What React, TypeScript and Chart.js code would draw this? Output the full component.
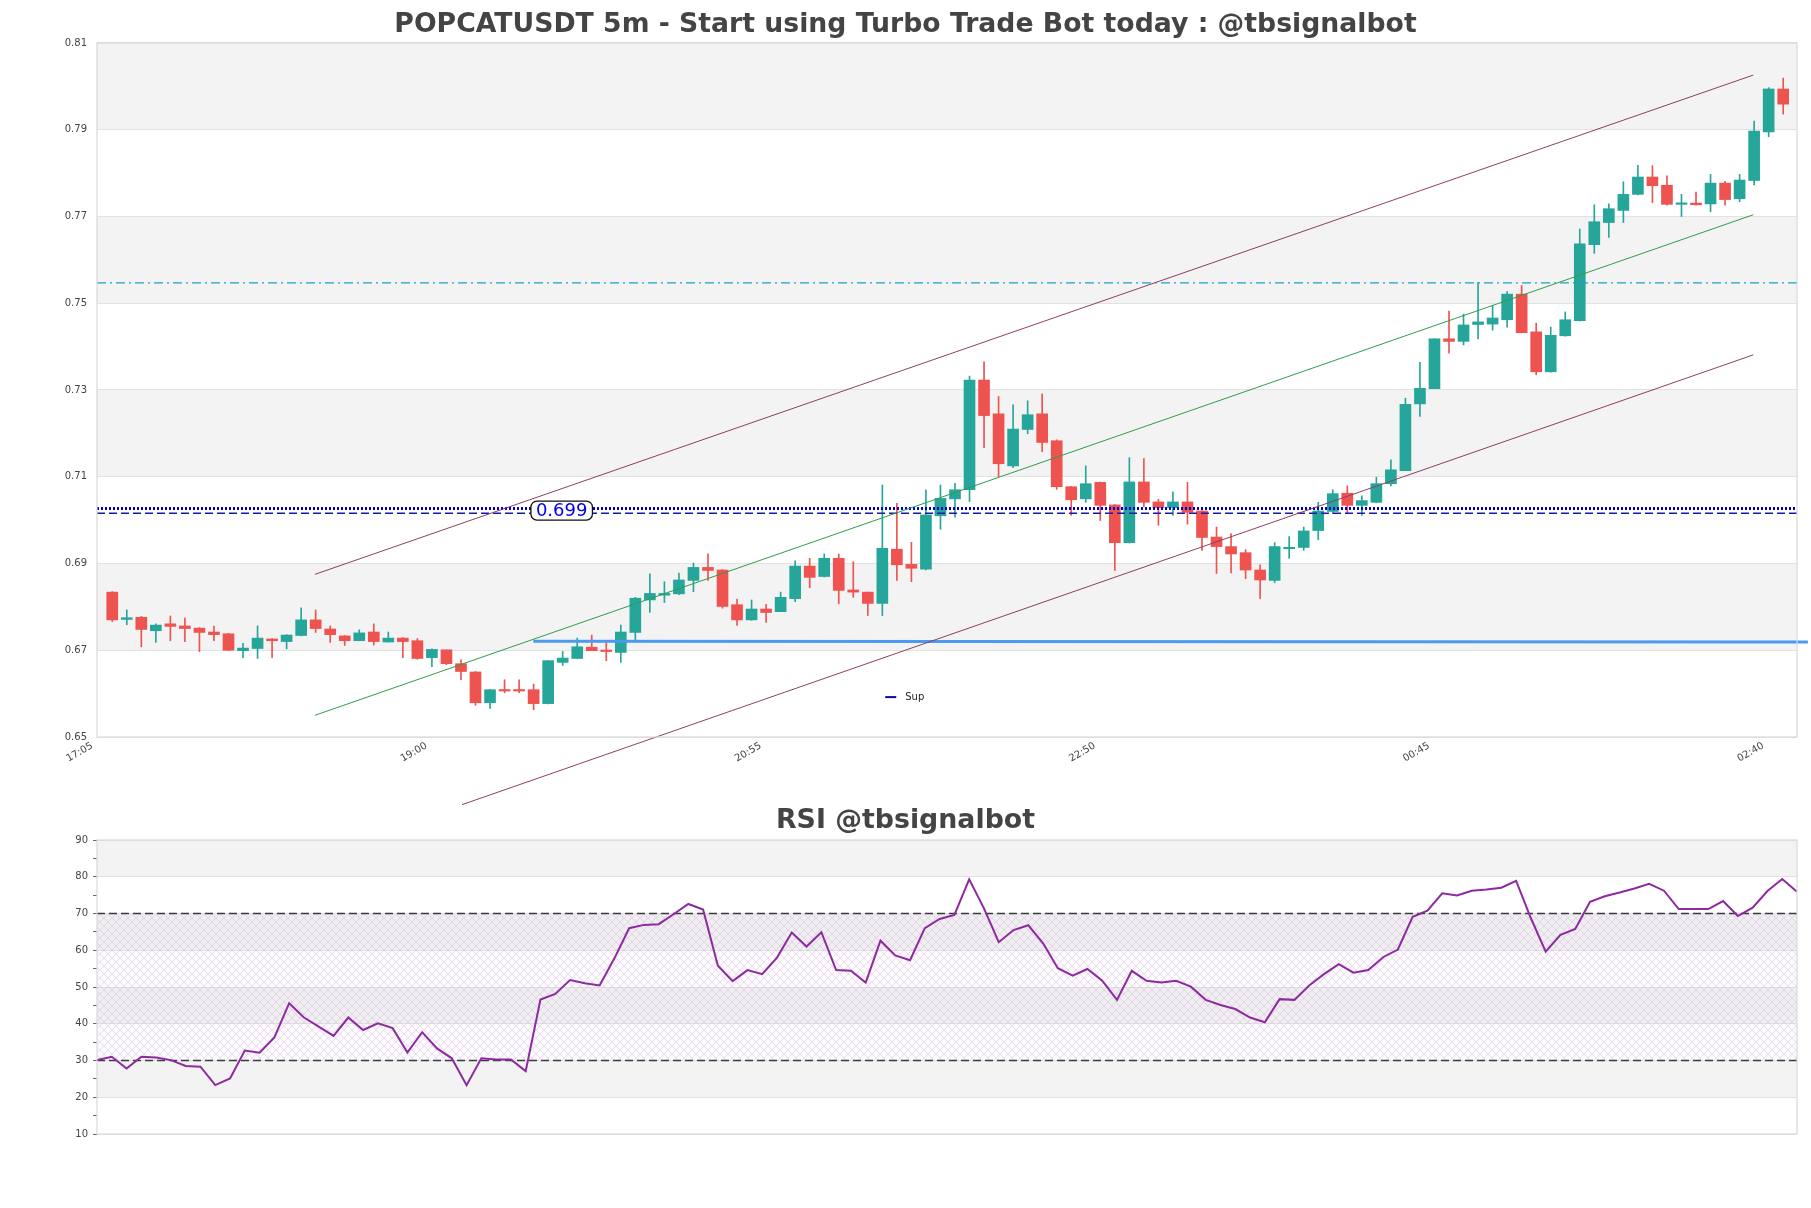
import React, { useEffect, useRef } from "react";
import { Chart, registerables } from "chart.js";

Chart.register(...registerables);

// ---------------- data ----------------
const OPEN = [
  0.6834, 0.6771, 0.6776, 0.6745, 0.6761, 0.6756, 0.6751, 0.6742, 0.6738, 0.6699,
  0.6704, 0.6726, 0.6720, 0.6734, 0.6770, 0.6749, 0.6733, 0.6722, 0.6742, 0.6719,
  0.6728, 0.6722, 0.6683, 0.6701, 0.6669, 0.6650, 0.6579, 0.6609, 0.6609, 0.6609,
  0.6577, 0.6672, 0.6681, 0.6707, 0.6699, 0.6695, 0.6741, 0.6816, 0.6827, 0.6830,
  0.6861, 0.6891, 0.6885, 0.6805, 0.6770, 0.6795, 0.6789, 0.6819, 0.6894, 0.6870,
  0.6912, 0.6839, 0.6834, 0.6808, 0.6933, 0.6898, 0.6887, 0.7010, 0.7049, 0.7070,
  0.7323, 0.7245, 0.7125, 0.7209, 0.7245, 0.7183, 0.7077, 0.7049, 0.7087, 0.7035,
  0.6948, 0.7088, 0.7042, 0.7029, 0.7042, 0.7021, 0.6961, 0.6939, 0.6925, 0.6885,
  0.6861, 0.6934, 0.6937, 0.6976, 0.7020, 0.7062, 0.7034, 0.7041, 0.7084, 0.7114,
  0.7268, 0.7303, 0.7418, 0.7412, 0.7451, 0.7452, 0.7462, 0.7521, 0.7434, 0.7342,
  0.7425, 0.7460, 0.7635, 0.7686, 0.7714, 0.7751, 0.7791, 0.7772, 0.7728, 0.7731,
  0.7729, 0.7777, 0.7741, 0.7783, 0.7895, 0.7994,
];
const HIGH = [
  0.6835, 0.6793, 0.6778, 0.6761, 0.6779, 0.6774, 0.6752, 0.6756, 0.6739, 0.6716,
  0.6756, 0.6727, 0.6736, 0.6798, 0.6793, 0.6756, 0.6734, 0.6747, 0.6761, 0.6742,
  0.6729, 0.6727, 0.6703, 0.6701, 0.6678, 0.6651, 0.6610, 0.6632, 0.6632, 0.6622,
  0.6676, 0.6697, 0.6728, 0.6735, 0.6722, 0.6758, 0.6822, 0.6876, 0.6858, 0.6878,
  0.6901, 0.6922, 0.6886, 0.6818, 0.6816, 0.6806, 0.6834, 0.6906, 0.6912, 0.6922,
  0.6922, 0.6904, 0.6834, 0.7081, 0.7039, 0.6949, 0.7070, 0.7081, 0.7085, 0.7332,
  0.7365, 0.7285, 0.7266, 0.7275, 0.7291, 0.7185, 0.7078, 0.7125, 0.7088, 0.7036,
  0.7144, 0.7142, 0.7048, 0.7065, 0.7087, 0.7022, 0.6984, 0.6969, 0.6932, 0.6897,
  0.6948, 0.6962, 0.6984, 0.7041, 0.7070, 0.7079, 0.7056, 0.7099, 0.7139, 0.7281,
  0.7364, 0.7418, 0.7482, 0.7475, 0.7548, 0.7495, 0.7527, 0.7541, 0.7454, 0.7445,
  0.7480, 0.7671, 0.7727, 0.7729, 0.7780, 0.7818, 0.7817, 0.7794, 0.7751, 0.7756,
  0.7797, 0.7781, 0.7797, 0.7920, 0.7997, 0.8019,
];
const LOW = [
  0.6766, 0.6759, 0.6708, 0.6718, 0.6722, 0.6720, 0.6697, 0.6722, 0.6699, 0.6683,
  0.6681, 0.6683, 0.6703, 0.6733, 0.6741, 0.6718, 0.6711, 0.6722, 0.6712, 0.6719,
  0.6683, 0.6679, 0.6662, 0.6667, 0.6632, 0.6573, 0.6566, 0.6602, 0.6602, 0.6563,
  0.6576, 0.6665, 0.6681, 0.6699, 0.6676, 0.6672, 0.6724, 0.6787, 0.6810, 0.6828,
  0.6835, 0.6861, 0.6797, 0.6757, 0.6769, 0.6764, 0.6789, 0.6812, 0.6844, 0.6869,
  0.6807, 0.6822, 0.6780, 0.6780, 0.6861, 0.6858, 0.6885, 0.6979, 0.7007, 0.7043,
  0.7167, 0.7100, 0.7121, 0.7199, 0.7158, 0.7071, 0.7011, 0.7041, 0.6999, 0.6884,
  0.6947, 0.7031, 0.6988, 0.7011, 0.6991, 0.6930, 0.6877, 0.6878, 0.6865, 0.6819,
  0.6856, 0.6912, 0.6930, 0.6955, 0.7015, 0.7015, 0.7011, 0.7040, 0.7079, 0.7114,
  0.7239, 0.7303, 0.7385, 0.7404, 0.7418, 0.7438, 0.7445, 0.7432, 0.7335, 0.7341,
  0.7424, 0.7459, 0.7615, 0.7652, 0.7686, 0.7750, 0.7732, 0.7726, 0.7700, 0.7726,
  0.7711, 0.7726, 0.7734, 0.7773, 0.7884, 0.7936,
];
const CLOSE = [
  0.6770, 0.6775, 0.6748, 0.6758, 0.6755, 0.6750, 0.6741, 0.6736, 0.6700, 0.6705,
  0.6728, 0.6722, 0.6735, 0.6770, 0.6750, 0.6736, 0.6722, 0.6740, 0.6720, 0.6728,
  0.6720, 0.6681, 0.6702, 0.6669, 0.6651, 0.6579, 0.6609, 0.6606, 0.6606, 0.6577,
  0.6676, 0.6682, 0.6708, 0.6699, 0.6697, 0.6742, 0.6820, 0.6831, 0.6831, 0.6862,
  0.6891, 0.6884, 0.6801, 0.6770, 0.6795, 0.6787, 0.6822, 0.6894, 0.6868, 0.6912,
  0.6838, 0.6834, 0.6808, 0.6935, 0.6897, 0.6889, 0.7012, 0.7050, 0.7070, 0.7323,
  0.7241, 0.7130, 0.7210, 0.7243, 0.7179, 0.7077, 0.7047, 0.7084, 0.7034, 0.6948,
  0.7088, 0.7041, 0.7029, 0.7042, 0.7018, 0.6960, 0.6939, 0.6922, 0.6885, 0.6862,
  0.6939, 0.6936, 0.6975, 0.7021, 0.7061, 0.7034, 0.7045, 0.7084, 0.7116, 0.7267,
  0.7304, 0.7418, 0.7412, 0.7450, 0.7457, 0.7466, 0.7521, 0.7432, 0.7342, 0.7426,
  0.7462, 0.7637, 0.7688, 0.7718, 0.7751, 0.7791, 0.7771, 0.7728, 0.7729, 0.7727,
  0.7777, 0.7739, 0.7784, 0.7897, 0.7994, 0.7959,
];

const RSI = [
  30.1, 31.0, 27.8, 31.0, 30.8, 30.1, 28.5, 28.3, 23.3, 25.1,
  32.7, 32.1, 36.3, 45.6, 41.7, 39.2, 36.7, 41.7, 38.3, 40.1,
  38.8, 32.2, 37.7, 33.3, 30.6, 23.3, 30.6, 30.3, 30.3, 27.1,
  46.6, 48.1, 51.9, 51.0, 50.4, 57.8, 66.0, 66.9, 67.1, 69.8,
  72.6, 71.1, 55.8, 51.6, 54.6, 53.5, 58.0, 64.8, 61.0, 64.9,
  54.6, 54.4, 51.2, 62.6, 58.6, 57.3, 66.0, 68.5, 69.6, 79.3,
  71.4, 62.2, 65.5, 66.8, 61.9, 55.1, 53.1, 54.9, 51.7, 46.5,
  54.4, 51.7, 51.2, 51.7, 50.1, 46.5, 45.1, 44.0, 41.7, 40.4,
  46.7, 46.5, 50.4, 53.5, 56.2, 53.9, 54.6, 58.1, 60.2, 69.1,
  70.8, 75.5, 74.9, 76.2, 76.5, 77.0, 78.9, 68.7, 59.6, 64.2,
  65.8, 73.2, 74.7, 75.7, 76.8, 78.1, 76.2, 71.2, 71.2, 71.2,
  73.4, 69.3, 71.6, 76.1, 79.4, 75.9,
];

const X_TICK_INDEX = [0, 23, 46, 69, 92, 115];
const X_TICK_LABELS = ["17:05", "19:00", "20:55", "22:50", "00:45", "02:40"];
const Y_TICKS = [0.65, 0.67, 0.69, 0.71, 0.73, 0.75, 0.77, 0.79, 0.81];
const RSI_MAJOR = [10, 20, 30, 40, 50, 60, 70, 80, 90];
const RSI_LEVELS = [30, 70];

// trend channel end points [index, price]
const CHANNEL_UPPER = [[13.95, 0.6875], [112.94, 0.8026]];
const CHANNEL_MID = [[13.95, 0.655], [112.94, 0.7704]];
const CHANNEL_LOWER = [[24.07, 0.6344], [112.94, 0.7381]];
const SUP_LINE = [[28.98, 0.6721], [116.7, 0.6719]];
const LEVEL_CYAN = 0.7547;
const LEVEL_DOTTED = 0.7027;
const LEVEL_DASHED = 0.7016;
const LEVEL_LABEL = "0.699";
const LEVEL_LABEL_AT = [30.93, 0.7022];
const LEGEND_LABEL = "Sup";
const LEGEND_AT = [53.2, 0.6592];

const MAIN_TITLE = "POPCATUSDT 5m - Start using Turbo Trade Bot today : @tbsignalbot";
const RSI_TITLE = "RSI @tbsignalbot";

// ---------------- styling ----------------
const FONT = "'DejaVu Sans', sans-serif";
const UP = "#26a69a";
const DOWN = "#ef5350";
const BAND = "#f3f3f3";
const FRAME = "#d9d9d9";
const GRID = "#e2e2e2";
const TICK_COLOR = "#444";
const X_MIN = -1.05;
const X_MAX = 115.95;

Chart.defaults.font.family = FONT;

const pts = (arr: number[][]) => arr.map(([x, y]) => ({ x, y }));
const hline = (v: number, x0: number, x1: number) => [{ x: x0, y: v }, { x: x1, y: v }];

const bandsPlugin = (edges: number[], axis: string) => ({
  id: "bands_" + axis,
  beforeDraw(chart: any) {
    const { ctx, chartArea: a } = chart;
    const y = chart.scales[axis];
    ctx.save();
    ctx.fillStyle = BAND;
    for (let k = 0; k < edges.length - 1; k++) {
      if (k % 2 === 1) {
        const t = y.getPixelForValue(edges[k + 1]);
        const b = y.getPixelForValue(edges[k]);
        ctx.fillRect(a.left, t, a.right - a.left, b - t);
      }
    }
    ctx.restore();
  },
});

const framePlugin = {
  id: "frame",
  afterDraw(chart: any) {
    const { ctx, chartArea: a } = chart;
    ctx.save();
    ctx.strokeStyle = FRAME;
    ctx.lineWidth = 1.2;
    ctx.strokeRect(a.left, a.top, a.right - a.left, a.bottom - a.top);
    ctx.restore();
  },
};

const overlayPlugin = {
  id: "overlay",
  afterDatasetsDraw(chart: any) {
    const { ctx } = chart;
    const xs = chart.scales.x;
    const ys = chart.scales.y;
    ctx.save();
    // level label box
    ctx.font = `18px ${FONT}`;
    const tw = ctx.measureText(LEVEL_LABEL).width;
    const cx = xs.getPixelForValue(LEVEL_LABEL_AT[0]);
    const cy = ys.getPixelForValue(LEVEL_LABEL_AT[1]);
    const w = tw + 10;
    const h = 19;
    const x0 = cx - w / 2;
    const y0 = cy - h / 2;
    ctx.beginPath();
    ctx.roundRect(x0, y0, w, h, 6);
    ctx.fillStyle = "#ffffff";
    ctx.fill();
    ctx.lineWidth = 1.3;
    ctx.strokeStyle = "#111";
    ctx.stroke();
    ctx.fillStyle = "#0000ee";
    ctx.textAlign = "center";
    ctx.textBaseline = "middle";
    ctx.fillText(LEVEL_LABEL, cx, cy + 1);
    // legend
    const lx = xs.getPixelForValue(LEGEND_AT[0]);
    const ly = ys.getPixelForValue(LEGEND_AT[1]);
    ctx.strokeStyle = "#0a0aa0";
    ctx.lineWidth = 2;
    ctx.beginPath();
    ctx.moveTo(lx, ly);
    ctx.lineTo(lx + 11, ly);
    ctx.stroke();
    ctx.font = `10px ${FONT}`;
    ctx.fillStyle = "#222";
    ctx.textAlign = "left";
    ctx.fillText(LEGEND_LABEL, lx + 20, ly);
    ctx.restore();
  },
};

let hatchPattern: CanvasPattern | null = null;
const hatchPlugin = {
  id: "hatch",
  beforeDatasetsDraw(chart: any) {
    const { ctx, chartArea: a } = chart;
    const y = chart.scales.y;
    if (!hatchPattern) {
      const c = document.createElement("canvas");
      c.width = 8;
      c.height = 8;
      const g = c.getContext("2d")!;
      g.strokeStyle = "rgba(175,140,195,0.35)";
      g.lineWidth = 0.7;
      g.beginPath();
      g.moveTo(0, 0);
      g.lineTo(8, 8);
      g.moveTo(8, 0);
      g.lineTo(0, 8);
      g.stroke();
      hatchPattern = ctx.createPattern(c, "repeat");
    }
    const t = y.getPixelForValue(RSI_LEVELS[1]);
    const b = y.getPixelForValue(RSI_LEVELS[0]);
    ctx.save();
    ctx.fillStyle = "rgba(200,170,215,0.06)";
    ctx.fillRect(a.left, t, a.right - a.left, b - t);
    ctx.fillStyle = hatchPattern;
    ctx.fillRect(a.left, t, a.right - a.left, b - t);
    ctx.restore();
  },
};

function mainConfig(): any {
  const colors = OPEN.map((o, i) => (CLOSE[i] >= o ? UP : DOWN));
  const lineDs = (data: any[], color: string, width: number, dash: number[] = [], clip = true) => ({
    type: "line",
    data,
    borderColor: color,
    borderWidth: width,
    borderDash: dash,
    pointRadius: 0,
    tension: 0,
    fill: false,
    order: 0,
    clip: clip ? undefined : false,
  });
  return {
    type: "bar",
    data: {
      datasets: [
        {
          type: "bar",
          data: OPEN.map((_, i) => ({ x: i, y: [LOW[i], HIGH[i]] })),
          backgroundColor: colors,
          barThickness: 1,
          grouped: false,
          order: 3,
        },
        {
          type: "bar",
          data: OPEN.map((o, i) => ({ x: i, y: [o, CLOSE[i]] })),
          backgroundColor: colors,
          barThickness: 11,
          minBarLength: 1.5,
          grouped: false,
          order: 2,
        },
        lineDs(pts(CHANNEL_UPPER), "#8c3f63", 1, [], false),
        lineDs(pts(CHANNEL_MID), "#2e9e4a", 1, [], false),
        lineDs(pts(CHANNEL_LOWER), "#8c3f63", 1, [], false),
        lineDs(pts(SUP_LINE), "#4a9bf0", 3, [], false),
        lineDs(hline(LEVEL_CYAN, X_MIN, X_MAX), "#1aa3c4", 1.2, [9, 4, 2, 4]),
        lineDs(hline(LEVEL_DASHED, X_MIN, X_MAX), "#1a1aa8", 1.5, [8, 4]),
        lineDs(hline(LEVEL_DOTTED, X_MIN, X_MAX), "#0000d0", 3, [2, 2]),
      ],
    },
    options: {
      responsive: false,
      animation: false,
      events: [],
      layout: { padding: 0 },
      plugins: {
        legend: { display: false },
        tooltip: { enabled: false },
        title: {
          display: true,
          text: MAIN_TITLE,
          color: "#444",
          font: { family: FONT, size: 26.7, weight: "bold" },
          padding: { top: 8.7, bottom: 2.25 },
        },
      },
      scales: {
        x: {
          type: "linear",
          offset: false,
          min: X_MIN,
          max: X_MAX,
          grid: { display: false },
          border: { display: false },
          afterBuildTicks: (s: any) => {
            s.ticks = X_TICK_INDEX.map((v) => ({ value: v }));
          },
          ticks: {
            autoSkip: false,
            maxRotation: 30,
            minRotation: 30,
            labelOffset: -20,
            padding: -5,
            color: TICK_COLOR,
            font: { family: FONT, size: 10 },
            callback: (v: number) => {
              const k = X_TICK_INDEX.indexOf(Math.round(v));
              return k >= 0 ? X_TICK_LABELS[k] : "";
            },
          },
          afterFit: (s: any) => {
            s.height = 810 - 737;
          },
        },
        y: {
          type: "linear",
          min: 0.65,
          max: 0.81,
          afterBuildTicks: (s: any) => {
            s.ticks = Y_TICKS.map((v) => ({ value: v }));
          },
          grid: { color: GRID, drawTicks: false, lineWidth: 1 },
          border: { display: false },
          ticks: {
            padding: 10,
            color: TICK_COLOR,
            font: { family: FONT, size: 10 },
            callback: (v: number) => Number(v).toFixed(2),
          },
          afterFit: (s: any) => {
            s.width = 97;
          },
        },
        yr: {
          type: "linear",
          position: "right",
          display: true,
          grid: { display: false },
          border: { display: false },
          ticks: { display: false },
          afterFit: (s: any) => {
            s.width = 14;
          },
        },
      },
    },
    plugins: [bandsPlugin(Y_TICKS, "y"), framePlugin, overlayPlugin],
  };
}

function rsiConfig(): any {
  return {
    type: "line",
    data: {
      datasets: [
        {
          data: RSI.map((v, i) => ({ x: i, y: v })),
          borderColor: "#8e2aa0",
          borderWidth: 2,
          pointRadius: 0,
          tension: 0,
          fill: false,
          order: 0,
        },
        ...RSI_LEVELS.map((lv) => ({
          data: hline(lv, 0, RSI.length - 1),
          borderColor: "#3a3a3a",
          borderWidth: 1.3,
          borderDash: [8, 4],
          pointRadius: 0,
          fill: false,
          order: 1,
        })),
      ],
    },
    options: {
      responsive: false,
      animation: false,
      events: [],
      layout: { padding: { bottom: 418 - 344 } },
      plugins: {
        legend: { display: false },
        tooltip: { enabled: false },
        title: {
          display: true,
          text: RSI_TITLE,
          color: "#444",
          font: { family: FONT, size: 26.8, weight: "bold" },
          padding: { top: 15.2, bottom: 2.64 },
        },
      },
      scales: {
        x: { type: "linear", offset: false, min: 0, max: RSI.length - 1, display: false },
        y: {
          type: "linear",
          min: 10,
          max: 90,
          ticks: {
            stepSize: 5,
            padding: 5,
            color: TICK_COLOR,
            font: { family: FONT, size: 10 },
            callback: (v: number) => (v % 10 === 0 ? String(v) : ""),
          },
          grid: {
            color: (c: any) => (c.tick && c.tick.value % 10 === 0 ? GRID : "rgba(0,0,0,0)"),
            tickColor: "#666",
            tickLength: 4,
          },
          border: { display: false },
          afterFit: (s: any) => {
            s.width = 97;
          },
        },
        yr: {
          type: "linear",
          position: "right",
          display: true,
          grid: { display: false },
          border: { display: false },
          ticks: { display: false },
          afterFit: (s: any) => {
            s.width = 14;
          },
        },
      },
    },
    plugins: [bandsPlugin(RSI_MAJOR, "y"), hatchPlugin, framePlugin],
  };
}

export default function App() {
  const mainRef = useRef<HTMLCanvasElement>(null);
  const rsiRef = useRef<HTMLCanvasElement>(null);
  useEffect(() => {
    const main = new Chart(mainRef.current!, mainConfig());
    const rsi = new Chart(rsiRef.current!, rsiConfig());
    return () => {
      main.destroy();
      rsi.destroy();
    };
  }, []);
  return (
    <div
      style={{
        position: "absolute",
        left: 0,
        top: 0,
        width: 1811,
        height: 1208,
        background: "#ffffff",
        overflow: "hidden",
      }}
    >
      <canvas ref={mainRef} width={1811} height={810} style={{ position: "absolute", left: 0, top: 0 }} />
      <canvas ref={rsiRef} width={1811} height={418} style={{ position: "absolute", left: 0, top: 790 }} />
    </div>
  );
}
